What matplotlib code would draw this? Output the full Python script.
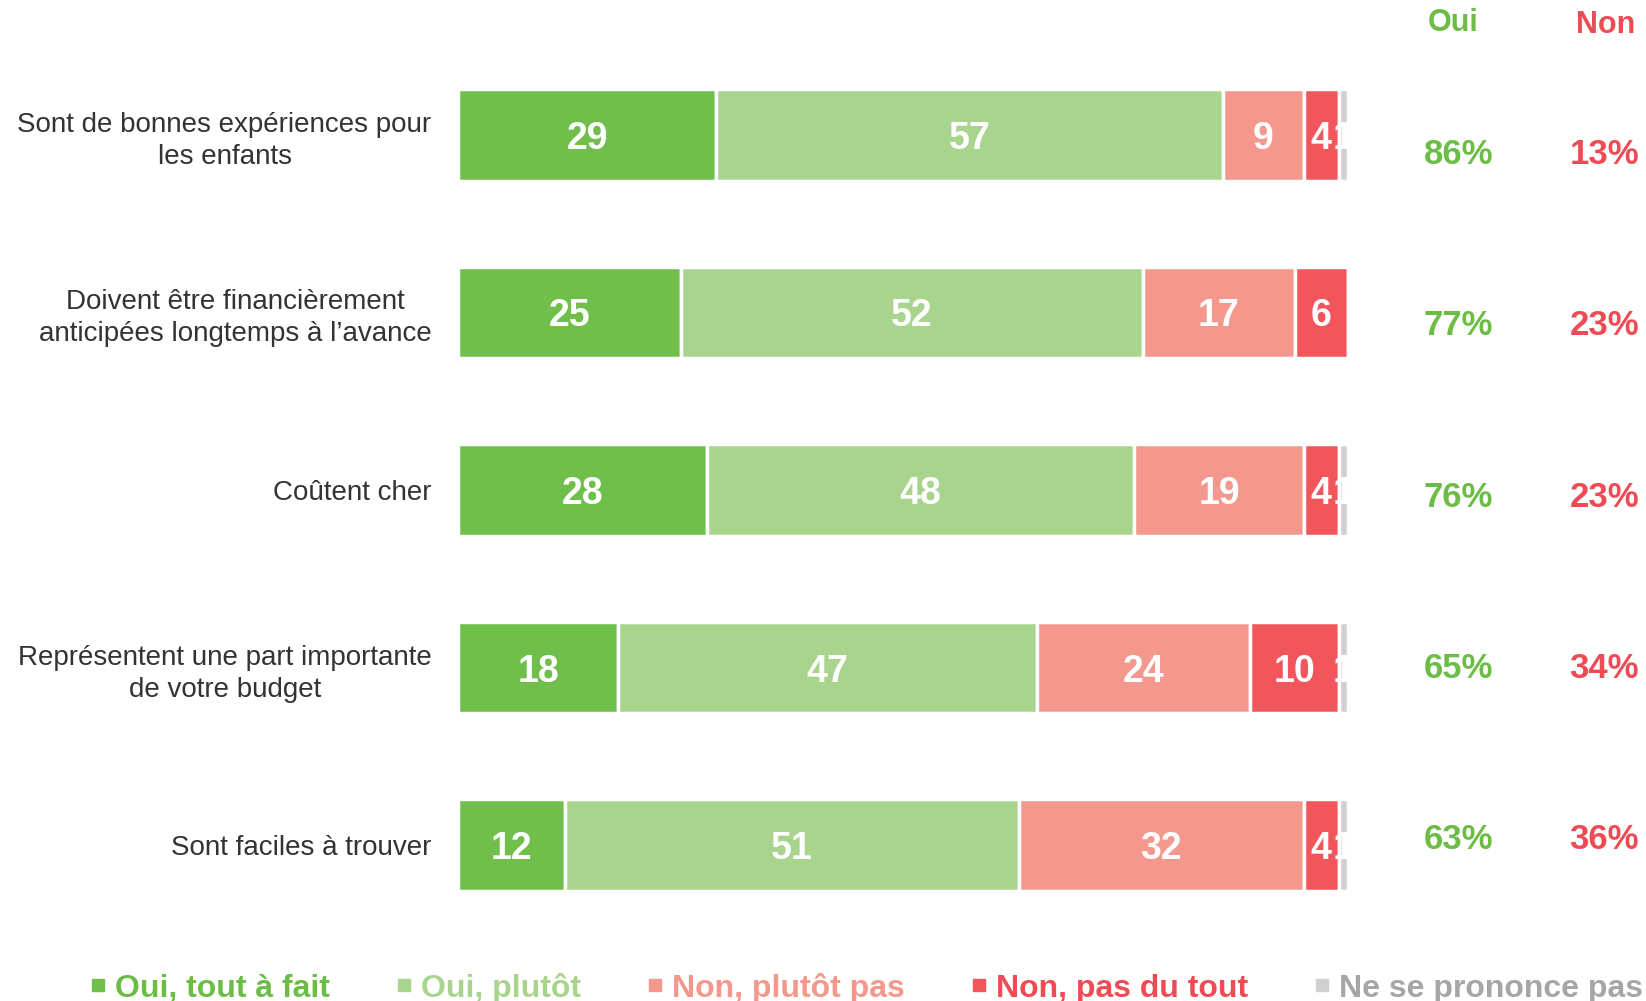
import numpy as np
import matplotlib.pyplot as plt
from matplotlib.lines import Line2D

plt.rcParams['font.family'] = ['Liberation Sans', 'DejaVu Sans']

categories = [
    'Sont de bonnes expériences pour\nles enfants',
    'Doivent être financièrement\nanticipées longtemps à l’avance',
    'Coûtent cher',
    'Représentent une part importante\nde votre budget',
    'Sont faciles à trouver',
]
series_names = ['Oui, tout à fait', 'Oui, plutôt', 'Non, plutôt pas',
                'Non, pas du tout', 'Ne se prononce pas']
oui_tout = [29, 25, 28, 18, 12]
oui_plutot = [57, 52, 48, 47, 51]
non_plutot = [9, 17, 19, 24, 32]
non_pas = [4, 6, 4, 10, 4]
nsp = [1, 0, 1, 1, 1]

colors = ['#70bf4b', '#a9d48e', '#f4978c', '#f0565c', '#d0d0d0']
legend_text_colors = ['#6cbd45', '#a9d48e', '#f4978c', '#ee4b55', '#a6a6a6']
green_txt = '#6cbd45'
red_txt = '#ee4b55'

W, H = 1646, 1001
fig = plt.figure(figsize=(W / 100, H / 100), dpi=100)
ax = fig.add_axes([458 / W, 67 / H, 890 / W, 888 / H])

data = np.array([oui_tout, oui_plutot, non_plutot, non_pas, nsp], dtype=float)
y = np.arange(len(categories))
left = np.zeros(len(categories))
for k in range(len(series_names)):
    vals = data[k]
    ax.barh(y, vals, left=left, height=0.515, color=colors[k],
            edgecolor='white', linewidth=2.5)
    for i, v in enumerate(vals):
        if v > 0:
            ax.text(left[i] + v / 2, y[i], f'{int(v)}', ha='center',
                    va='center_baseline', color='white', fontsize=27,
                    fontweight='bold')
    left += vals

ax.set_xlim(0, 100)
ax.set_ylim(4.5, -0.5)
ax.set_xticks([])
ax.set_yticks(y)
ax.set_yticklabels(categories, fontsize=20, color='#333333')
for lbl in ax.get_yticklabels():
    lbl.set_multialignment('center')
    lbl.set_linespacing(1.3)
ax.tick_params(axis='y', length=0, pad=19)
for s in ax.spines.values():
    s.set_visible(False)

# totals columns
oui_tot = data[0] + data[1]
non_tot = data[2] + data[3]
x_oui, x_non = 112.4, 128.8
ax.text(x_oui - 0.6, -0.63, 'Oui', ha='center', va='center', fontsize=22,
        fontweight='bold', color=green_txt, clip_on=False)
ax.text(x_non + 0.2, -0.62, 'Non', ha='center', va='center', fontsize=22,
        fontweight='bold', color=red_txt, clip_on=False)
for i in range(len(categories)):
    yy = 0.11 + 0.965 * i
    ax.text(x_oui, yy, f'{int(oui_tot[i])}%', ha='center', va='center',
            fontsize=25, fontweight='bold', color=green_txt, clip_on=False)
    ax.text(x_non, yy, f'{int(non_tot[i])}%', ha='center', va='center',
            fontsize=25, fontweight='bold', color=red_txt, clip_on=False)

handles = [Line2D([], [], marker='s', linestyle='none', markersize=8,
                  markerfacecolor=c, markeredgecolor=c) for c in colors]
leg = fig.legend(handles, series_names, loc='center left',
                 bbox_to_anchor=(91 / W, 1 - 988 / H), ncol=5, frameon=False,
                 fontsize=23, handlelength=0.45, handletextpad=0.3,
                 columnspacing=2.1, borderaxespad=0, borderpad=0)
for t, c in zip(leg.get_texts(), legend_text_colors):
    t.set_color(c)
    t.set_fontweight('bold')

fig.savefig('out.png', dpi=100)
